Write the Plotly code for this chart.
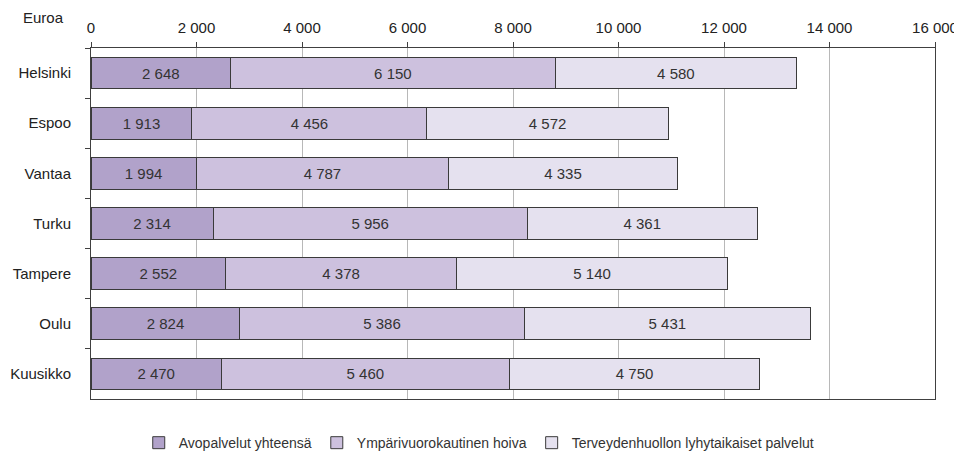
import plotly.graph_objects as go

cities = ["Helsinki", "Espoo", "Vantaa", "Turku", "Tampere", "Oulu", "Kuusikko"]
avopalvelut = [2648, 1913, 1994, 2314, 2552, 2824, 2470]
ymparivuorokautinen = [6150, 4456, 4787, 5956, 4378, 5386, 5460]
terveydenhuolto = [4580, 4572, 4335, 4361, 5140, 5431, 4750]
series_names = ["Avopalvelut yhteensä", "Ympärivuorokautinen hoiva", "Terveydenhuollon lyhytaikaiset palvelut"]
colors = ["#b1a2ca", "#cdc1de", "#e5e1ef"]

FONT = "Liberation Sans, Arial"

fig = go.Figure()
for name, vals, col in zip(series_names, [avopalvelut, ymparivuorokautinen, terveydenhuolto], colors):
    fig.add_trace(go.Bar(
        y=cities, x=vals, name=name, orientation="h",
        marker=dict(color=col, line=dict(color="#3a3a3a", width=1)),
        texttemplate="%{x:,d}", textposition="inside", insidetextanchor="middle",
        textfont=dict(family=FONT, size=15, color="#333333"),
        constraintext="none",
    ))

# page body has an 8px default margin; figure is sized/offset to compensate
fig.update_layout(
    barmode="stack", bargap=0.37,
    width=954, height=444,
    margin=dict(l=83, r=27, t=40, b=53, autoexpand=False),
    plot_bgcolor="white", paper_bgcolor="white",
    separators=", ",
    font=dict(family=FONT, size=14, color="#222222"),
    showlegend=True,
    legend=dict(orientation="h", x=0.46, xanchor="center", y=-0.08, yanchor="top",
                font=dict(family=FONT, size=14, color="#333333"), traceorder="normal",
                itemwidth=30),
    annotations=[dict(text="Euroa", xref="paper", yref="paper", x=-0.083, y=1.0,
                      xanchor="left", yanchor="middle", yshift=31, showarrow=False,
                      font=dict(family=FONT, size=15, color="#222222"))],
)
fig.update_xaxes(side="top", range=[0, 16000], dtick=2000, tickformat=",d",
                 showgrid=True, gridcolor="#b8b8b8", gridwidth=1,
                 showline=True, linecolor="#404040", linewidth=1, mirror=True,
                 ticks="outside", ticklen=5, tickcolor="#404040", zeroline=False,
                 ticklabelstandoff=3, automargin=False,
                 tickfont=dict(family=FONT, size=15, color="#222222"))
fig.update_yaxes(autorange="reversed", showline=True, linecolor="#404040", linewidth=1,
                 mirror=True, ticks="outside", ticklen=5, tickcolor="#404040",
                 tickson="boundaries", showgrid=False, automargin=False,
                 ticklabelstandoff=16,
                 tickfont=dict(family=FONT, size=15, color="#222222"))

fig.write_html("out.html")
